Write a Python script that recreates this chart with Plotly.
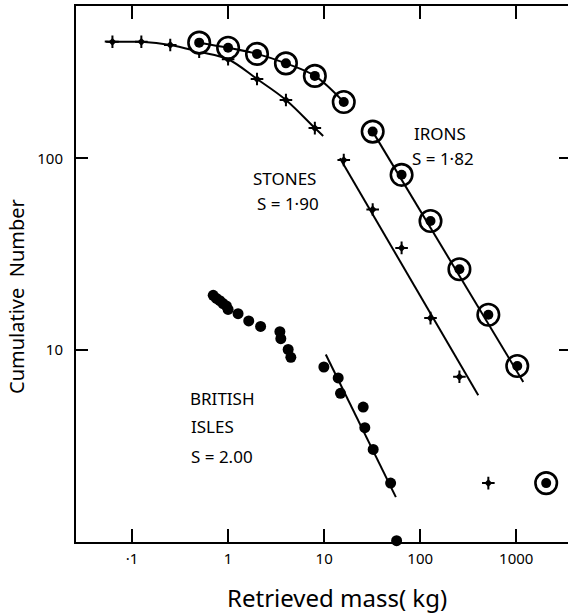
import numpy as np
import plotly.graph_objects as go

# ---- data ----
stones_mass = [0.0625, 0.125, 0.25, 0.5, 1, 2, 4, 8, 16, 32, 64, 128, 256]
stones_n = [407, 407, 392, 361, 330, 260, 202, 144, 98, 54, 34, 14.6, 7.2]
stones_extra_mass = [512]
stones_extra_n = [2.0]

irons_mass = [0.5, 1, 2, 4, 8, 16, 32, 64, 128, 256, 512, 1024]
irons_n = [403, 379, 352, 314, 270, 197, 138, 82, 47, 26.3, 15.2, 8.2]
irons_extra_mass = [2048]
irons_extra_n = [2.0]

british_mass = [0.70, 0.757, 0.82, 0.887, 0.96, 1.0, 1.27, 1.64, 2.18, 3.46, 3.54,
                4.22, 4.50, 9.93, 14.0, 14.8, 25.5, 26.5, 32.4, 49.2, 56.8]
british_n = [19.2, 18.5, 18.0, 17.4, 16.9, 16.2, 15.4, 14.1, 13.2, 12.4, 11.4,
             10.0, 9.1, 8.1, 7.1, 5.9, 5.0, 3.9, 3.0, 2.0, 1.0]

# curve (hand-drawn smooth curves) end extensions
stones_curve_start = (0.052, 408)
stones_curve_end = (9.77, 131)

# straight power-law fits (endpoints of the drawn lines)
stones_fit_mass = [14.6, 402]
stones_fit_n = [100, 5.77]
irons_fit_mass = [32, 1183]
irons_fit_n = [138, 6.76]
british_fit_mass = [10.4, 55.8]
british_fit_n = [9.42, 1.69]

x_tickvals = [0.1, 1, 10, 100, 1000]
x_ticktext = ["\u00b71", "1", "10", "100", "1000"]
y_tickvals = [10, 100]
y_ticktext = ["10", "100"]

labels = [
    ("IRONS", 81.3, 135.5),
    ("S = 1\u00b782", 78.1, 100.4),
    ("STONES", 1.75, 78.9),
    ("S = 1\u00b790", 1.90, 58.3),
    ("BRITISH", 0.383, 5.56),
    ("ISLES", 0.393, 3.97),
    ("S = 2.00", 0.393, 2.76),
]

FONT = "Noto Sans"
BLACK = "#000000"
LW = 2

fig = go.Figure()

# stones smooth curve through crosses (up to 8 kg)
k = stones_mass.index(8) + 1
cx = [stones_curve_start[0]] + stones_mass[:k] + [stones_curve_end[0]]
cy = [stones_curve_start[1]] + stones_n[:k] + [stones_curve_end[1]]
fig.add_trace(go.Scatter(x=cx, y=cy, mode="lines", line=dict(color=BLACK, width=LW, shape="spline", smoothing=1.0),
                         hoverinfo="skip", showlegend=False))

# straight fits
for fx, fy in [(stones_fit_mass, stones_fit_n), (british_fit_mass, british_fit_n)]:
    fig.add_trace(go.Scatter(x=fx, y=fy, mode="lines", line=dict(color=BLACK, width=LW),
                             hoverinfo="skip", showlegend=False))

# stones crosses
sm = stones_mass + stones_extra_mass
sn = stones_n + stones_extra_n
fig.add_trace(go.Scatter(x=sm, y=sn, mode="markers",
                         marker=dict(symbol="cross-thin", size=9, line=dict(color=BLACK, width=2)),
                         cliponaxis=False, showlegend=False))
fig.add_trace(go.Scatter(x=sm, y=sn, mode="markers",
                         marker=dict(symbol="diamond", size=6, color=BLACK),
                         cliponaxis=False, showlegend=False))

# irons: ring + dot
j = irons_mass.index(16) + 1
im = irons_mass + irons_extra_mass
iN = irons_n + irons_extra_n
fig.add_trace(go.Scatter(x=im, y=iN, mode="markers",
                         marker=dict(symbol="circle", size=21.5, color="white", line=dict(color=BLACK, width=2.6)),
                         cliponaxis=False, showlegend=False))
# irons curve (up to 16 kg) and straight fit drawn over the rings
fig.add_trace(go.Scatter(x=irons_mass[:j], y=irons_n[:j], mode="lines",
                         line=dict(color=BLACK, width=LW, shape="spline", smoothing=1.0),
                         hoverinfo="skip", showlegend=False))
fig.add_trace(go.Scatter(x=irons_fit_mass, y=irons_fit_n, mode="lines", line=dict(color=BLACK, width=LW),
                         hoverinfo="skip", showlegend=False))
fig.add_trace(go.Scatter(x=im, y=iN, mode="markers",
                         marker=dict(symbol="circle", size=10, color=BLACK),
                         cliponaxis=False, showlegend=False))

# british isles dots
fig.add_trace(go.Scatter(x=british_mass, y=british_n, mode="markers",
                         marker=dict(symbol="circle", size=11, color=BLACK),
                         cliponaxis=False, showlegend=False))

# dummy trace for the right-hand tick axis
fig.add_trace(go.Scatter(x=[1], y=[10], yaxis="y2", mode="markers", marker=dict(opacity=0),
                         hoverinfo="skip", showlegend=False))

for text, lx, ly in labels:
    fig.add_annotation(x=np.log10(lx), y=np.log10(ly), xref="x", yref="y", text=text, showarrow=False,
                       xanchor="left", yanchor="middle", font=dict(family=FONT, size=17, color=BLACK))

fig.add_annotation(x=0.53, y=-0.104, xref="paper", yref="paper", text="Retrieved mass( kg)",
                   showarrow=False, xanchor="center", yanchor="middle",
                   font=dict(family=FONT, size=24, color=BLACK))
fig.add_annotation(x=-0.121, y=0.458, xref="paper", yref="paper", text="Cumulative  Number",
                   showarrow=False, xanchor="center", yanchor="middle", textangle=-90,
                   font=dict(family=FONT, size=20, color=BLACK))

xr = [np.log10(0.1) - 56 / 96, np.log10(1000) + 51.7 / 96]
yr = [-0.007, 2.797]

fig.update_layout(
    width=568, height=614,
    margin=dict(l=76, r=0, t=6, b=72),
    paper_bgcolor="white", plot_bgcolor="white",
    xaxis=dict(type="log", range=xr, tickvals=x_tickvals, ticktext=x_ticktext,
               ticks="inside", ticklen=13, tickwidth=2, tickcolor=BLACK,
               showline=True, linewidth=2, linecolor=BLACK, mirror="ticks",
               showgrid=False, zeroline=False, ticklabelstandoff=2,
               tickfont=dict(family=FONT, size=15, color=BLACK)),
    yaxis=dict(type="log", range=yr, tickvals=y_tickvals, ticktext=y_ticktext,
               ticks="inside", ticklen=12, tickwidth=2, tickcolor=BLACK,
               showline=True, linewidth=2, linecolor=BLACK, mirror=False,
               showgrid=False, zeroline=False, ticklabelstandoff=8,
               tickfont=dict(family=FONT, size=15, color=BLACK)),
    yaxis2=dict(type="log", range=yr, overlaying="y", side="right", anchor="x",
                tickvals=y_tickvals, ticks="inside", ticklen=9, tickwidth=2, tickcolor=BLACK,
                showticklabels=False, showline=False, showgrid=False, zeroline=False),
    showlegend=False,
)

fig.write_html("out.html", config={"displayModeBar": False},
               post_script="document.body.style.margin='0px';")
